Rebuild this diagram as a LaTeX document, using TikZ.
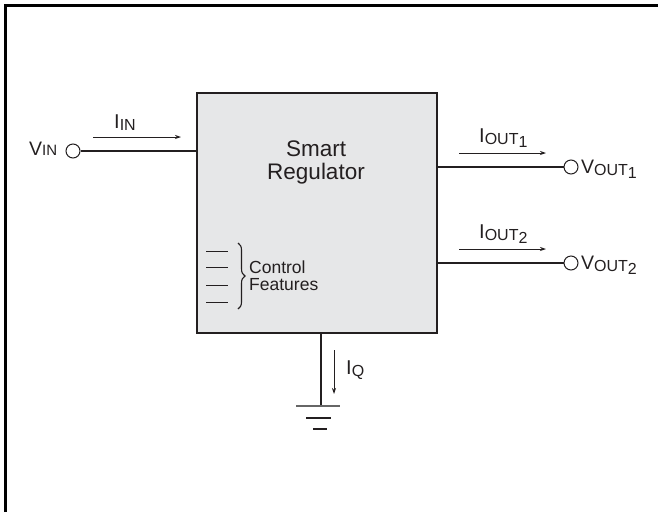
\documentclass[tikz,border=0pt]{standalone}
\usepackage{fontspec}
\setmainfont{Liberation Sans}
\usetikzlibrary{arrows.meta,decorations.pathreplacing}
\newcommand\fs[1]{\fontsize{#1}{#1}\selectfont}
\definecolor{boxgray}{HTML}{E6E7E8}
\definecolor{inkc}{HTML}{231F20}
\begin{document}
\begin{tikzpicture}[x=1pt,y=-1pt,
  wire/.style={draw=inkc,line width=1.2pt},
  cur/.style={draw=inkc,line width=0.8pt,-{Stealth[length=6pt,width=4pt]}},
  term/.style={circle,draw=inkc,line width=1pt,fill=white,minimum size=14pt,inner sep=0pt},
  lab/.style={inner sep=0pt,anchor=base west,text=inkc}]
\useasboundingbox (0,0) rectangle (658,512);
% frame
\draw[line width=2.8pt,black] (5.3,512) -- (5.3,5.3) -- (658,5.3);
% main box
\node[draw=inkc,line width=1.6pt,fill=boxgray,minimum width=240pt,minimum height=240pt,inner sep=0pt,anchor=north west] (reg) at (196,92) {};
\node[lab,anchor=base] (t1) at (316,156) {\fs{22.5}Smart};
\node[lab,anchor=base] (t2) at (316,179) {\fs{22.5}Regulator};
% control features
\foreach \yy [count=\i] in {251,267,285,302}{
  \coordinate (ca\i) at (206,\yy); \coordinate (cb\i) at (228,\yy);
  \draw[inkc,line width=0.9pt] (ca\i) -- (cb\i);}
\coordinate (bra) at (238,243); \coordinate (brb) at (238,309);
\draw[inkc,line width=1.1pt,decorate,decoration={brace,amplitude=7pt}] (bra) -- (brb);
\node[lab] (cf1) at (249,273) {\fs{17.5}Control};
\node[lab] (cf2) at (249,290.5) {\fs{17.5}Features};
% input
\node[term] (vin) at (73,151) {};
\draw[wire] (vin) -- (vin -| reg.west);
\node[lab] (vinl) at (29,155) {\fs{19.5}V\fs{15}IN};
\coordinate (iia) at (93,137); \coordinate (iib) at (181,137);
\draw[cur] (iia) -- (iib);
\node[lab] (iinl) at (114,128) {\fs{20}I\raisebox{-2pt}{\fs{16}IN}};
% output 1
\node[term] (vo1) at (571,167) {};
\draw[wire] (reg.east |- vo1) -- (vo1);
\node[lab] (vo1l) at (581,173) {\fs{19.5}V\raisebox{-2pt}{\fs{16}OUT\raisebox{-3pt}{\fs{16}1}}};
\coordinate (i1a) at (459,153); \coordinate (i1b) at (546,153);
\draw[cur] (i1a) -- (i1b);
\node[lab] (io1l) at (479,142) {\fs{20}I\raisebox{-2pt}{\fs{16}OUT\raisebox{-3pt}{\fs{16}1}}};
% output 2
\node[term] (vo2) at (571,263) {};
\draw[wire] (reg.east |- vo2) -- (vo2);
\node[lab] (vo2l) at (581,269) {\fs{19.5}V\raisebox{-2pt}{\fs{16}OUT\raisebox{-3pt}{\fs{16}2}}};
\coordinate (i2a) at (459,249); \coordinate (i2b) at (546,249);
\draw[cur] (i2a) -- (i2b);
\node[lab] (io2l) at (479,238) {\fs{20}I\raisebox{-2pt}{\fs{16}OUT\raisebox{-3pt}{\fs{16}2}}};
% ground
\coordinate (gnd) at (321,406);
\draw[wire] (reg.south -| gnd) -- (gnd);
\coordinate (g1a) at (296,406); \coordinate (g1b) at (340,406);
\coordinate (g2a) at (306,418); \coordinate (g2b) at (331,418);
\coordinate (g3a) at (313,429); \coordinate (g3b) at (327,429);
\draw[gray!80!black,line width=1.4pt] (g1a) -- (g1b);
\draw[inkc,line width=1.2pt] (g2a) -- (g2b);
\draw[inkc,line width=1.2pt] (g3a) -- (g3b);
\coordinate (iqa) at (334,350); \coordinate (iqb) at (334,394);
\draw[cur] (iqa) -- (iqb);
\node[lab] (iql) at (346,374) {\fs{20}I\raisebox{-2pt}{\fs{16}Q}};
\end{tikzpicture}
\end{document}
